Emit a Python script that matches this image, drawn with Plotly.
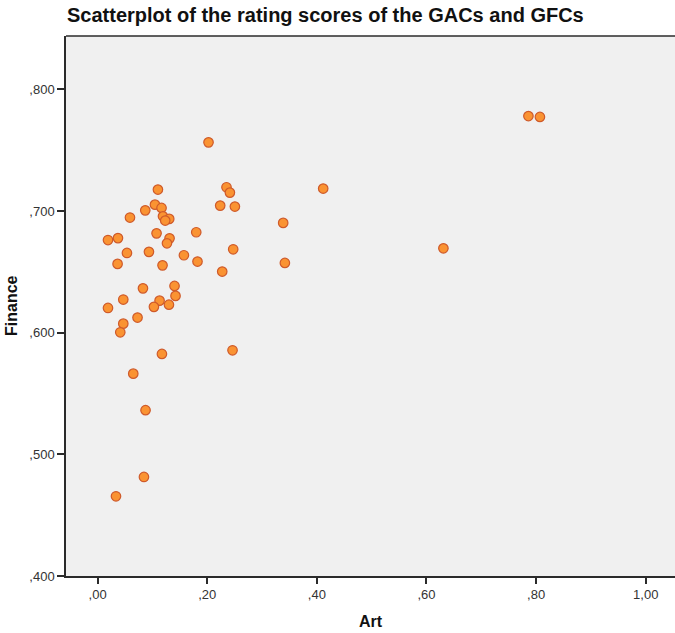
import plotly.graph_objects as go

# Rating scores per city: Art (GAC) vs Finance (GFC)
art = [0.786, 0.807, 0.2024, 0.1101, 0.2352, 0.2414, 0.4116, 0.2237, 0.2505, 0.087,
       0.1047, 0.1167, 0.0591, 0.1193, 0.1307, 0.1234, 0.1076, 0.18, 0.019, 0.0372,
       0.1313, 0.1266, 0.3386, 0.0536, 0.0937, 0.2474, 0.0365, 0.1185, 0.1575, 0.1823,
       0.2274, 0.3417, 0.6309, 0.0828, 0.1404, 0.1422, 0.0469, 0.1131, 0.1302, 0.1028,
       0.019, 0.0729, 0.0469, 0.0414, 0.1174, 0.2462, 0.0651, 0.0875, 0.0846, 0.0336]
finance = [0.778, 0.7773, 0.7564, 0.7176, 0.7195, 0.7151, 0.7184, 0.7044, 0.7036, 0.7005,
           0.7052, 0.7025, 0.6946, 0.6956, 0.6935, 0.6921, 0.6816, 0.6825, 0.6761, 0.6777,
           0.6775, 0.6734, 0.6902, 0.6655, 0.6664, 0.6685, 0.6565, 0.6553, 0.6636, 0.6584,
           0.6502, 0.6573, 0.6693, 0.6364, 0.6384, 0.6302, 0.6272, 0.6263, 0.623, 0.6212,
           0.6203, 0.6124, 0.6074, 0.6003, 0.5825, 0.5855, 0.5663, 0.5363, 0.4814, 0.4655]

x_ticks = [0.0, 0.2, 0.4, 0.6, 0.8, 1.0]
x_tick_text = [",00", ",20", ",40", ",60", ",80", "1,00"]
y_ticks = [0.4, 0.5, 0.6, 0.7, 0.8]
y_tick_text = [",400", ",500", ",600", ",700", ",800"]

FONT = "Liberation Sans, Arial, sans-serif"
AXIS_COLOR = "#2b2b2b"

fig = go.Figure(
    go.Scatter(
        x=art,
        y=finance,
        mode="markers",
        marker=dict(size=9.5, color="#FA9332",
                    line=dict(color="#CF5A2A", width=1.2)),
        hoverinfo="x+y",
    )
)

fig.update_layout(
    width=675,
    height=633,
    margin=dict(l=66, r=0, t=36, b=57),
    paper_bgcolor="white",
    plot_bgcolor="#F0F0F0",
    showlegend=False,
    font=dict(family=FONT, size=12, color="#333333"),
    title=dict(
        text="<b>Scatterplot of the rating scores of the GACs and GFCs</b>",
        x=67 / 675, xanchor="left", xref="container",
        y=1 - 15 / 633, yanchor="middle", yref="container",
        font=dict(family=FONT, size=20, color="#111111"),
    ),
    xaxis=dict(
        range=[-0.0576, 1.0534],
        tickvals=x_ticks, ticktext=x_tick_text,
        ticks="outside", ticklen=6, tickwidth=1.5, tickcolor=AXIS_COLOR,
        showgrid=False, zeroline=False,
        showline=True, linecolor=AXIS_COLOR, linewidth=1.5,
        tickfont=dict(size=13, color="#333333"),
    ),
    yaxis=dict(
        range=[0.4, 0.8438],
        tickvals=y_ticks, ticktext=y_tick_text,
        ticks="outside", ticklen=7, tickwidth=1.5, tickcolor=AXIS_COLOR,
        showgrid=False, zeroline=False,
        showline=True, linecolor=AXIS_COLOR, linewidth=1.5,
        tickfont=dict(size=13, color="#333333"),
    ),
    shapes=[
        dict(type="line", xref="paper", yref="paper", x0=0, x1=1, y0=1, y1=1,
             line=dict(color=AXIS_COLOR, width=1.5)),
    ],
    annotations=[
        dict(text="<b>Art</b>", xref="paper", yref="paper", x=0.5, y=0,
             yshift=-45, showarrow=False, yanchor="middle",
             font=dict(family=FONT, size=16, color="#111111")),
        dict(text="<b>Finance</b>", xref="paper", yref="paper", x=0, y=0.5,
             xshift=-55, textangle=-90, showarrow=False, xanchor="center",
             font=dict(family=FONT, size=16, color="#111111")),
    ],
)

fig.write_html("out.html")
